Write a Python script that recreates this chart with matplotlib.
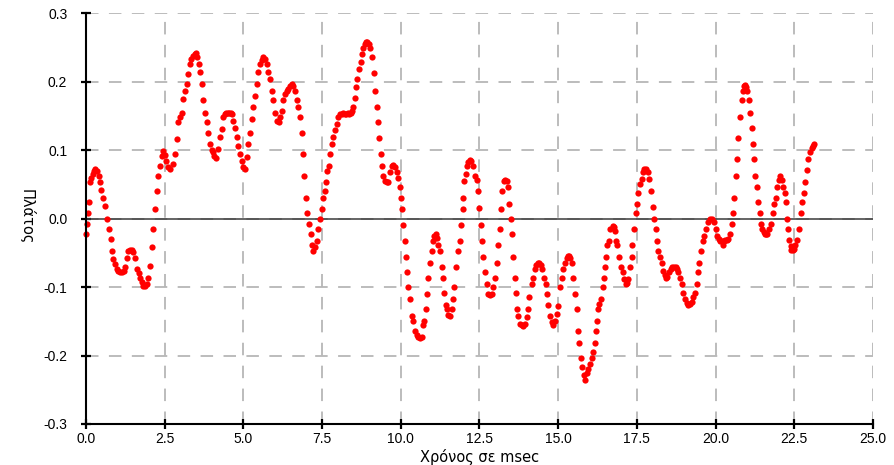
import matplotlib
matplotlib.use("Agg")
import matplotlib.pyplot as plt

# Sampled waveform: time in msec and amplitude
time_ms = [
    0.00, 0.02, 0.05, 0.09, 0.13, 0.17, 0.21, 0.25, 0.29, 0.35, 0.40, 0.44, 0.48, 0.53, 0.60, 0.68, 0.74, 0.79, 0.82, 0.87,
    0.92, 0.98, 1.03, 1.08, 1.14, 1.20, 1.25, 1.30, 1.34, 1.40, 1.45, 1.50, 1.56, 1.63, 1.68, 1.72, 1.77, 1.82, 1.87, 1.93,
    1.98, 2.03, 2.09, 2.14, 2.19, 2.24, 2.30, 2.35, 2.40, 2.46, 2.50, 2.55, 2.62, 2.67, 2.75, 2.83, 2.88, 2.93, 2.98, 3.04,
    3.09, 3.15, 3.20, 3.25, 3.30, 3.35, 3.41, 3.45, 3.49, 3.54, 3.59, 3.62, 3.67, 3.73, 3.78, 3.83, 3.88, 3.94, 3.99, 4.04,
    4.08, 4.13, 4.20, 4.26, 4.31, 4.36, 4.40, 4.45, 4.50, 4.55, 4.60, 4.64, 4.68, 4.73, 4.79, 4.84, 4.89, 4.94, 5.00, 5.05,
    5.10, 5.16, 5.21, 5.26, 5.31, 5.37, 5.42, 5.47, 5.53, 5.58, 5.63, 5.68, 5.74, 5.79, 5.84, 5.90, 5.95, 6.00, 6.06, 6.13,
    6.17, 6.22, 6.27, 6.32, 6.38, 6.43, 6.48, 6.53, 6.58, 6.64, 6.69, 6.74, 6.80, 6.85, 6.90, 6.93, 6.99, 7.03, 7.09, 7.14,
    7.18, 7.22, 7.27, 7.33, 7.38, 7.43, 7.49, 7.54, 7.58, 7.62, 7.67, 7.71, 7.75, 7.80, 7.85, 7.91, 7.96, 8.01, 8.07, 8.12,
    8.17, 8.22, 8.27, 8.32, 8.37, 8.42, 8.45, 8.49, 8.55, 8.58, 8.62, 8.68, 8.73, 8.76, 8.81, 8.85, 8.90, 8.94, 8.98, 9.02,
    9.08, 9.15, 9.18, 9.23, 9.27, 9.32, 9.36, 9.39, 9.45, 9.50, 9.55, 9.60, 9.65, 9.71, 9.76, 9.82, 9.87, 9.92, 9.97, 10.00,
    10.04, 10.08, 10.13, 10.17, 10.21, 10.24, 10.29, 10.35, 10.40, 10.45, 10.50, 10.56, 10.61, 10.66, 10.71, 10.74, 10.79, 10.82, 10.87, 10.93,
    10.98, 11.03, 11.07, 11.12, 11.15, 11.19, 11.25, 11.30, 11.35, 11.37, 11.43, 11.46, 11.51, 11.56, 11.62, 11.65, 11.69, 11.75, 11.83, 11.88,
    11.91, 11.97, 11.99, 12.02, 12.07, 12.09, 12.14, 12.20, 12.24, 12.28, 12.36, 12.41, 12.46, 12.49, 12.54, 12.57, 12.62, 12.67, 12.73, 12.78,
    12.83, 12.89, 12.94, 13.00, 13.05, 13.10, 13.15, 13.17, 13.20, 13.28, 13.32, 13.36, 13.42, 13.45, 13.49, 13.52, 13.55, 13.62, 13.66, 13.70,
    13.73, 13.79, 13.84, 13.89, 13.95, 14.00, 14.05, 14.08, 14.16, 14.21, 14.26, 14.31, 14.35, 14.40, 14.44, 14.47, 14.56, 14.60, 14.63, 14.69,
    14.74, 14.79, 14.84, 14.90, 14.95, 15.00, 15.06, 15.11, 15.16, 15.22, 15.27, 15.31, 15.35, 15.39, 15.43, 15.48, 15.53, 15.59, 15.62, 15.67,
    15.72, 15.77, 15.81, 15.86, 15.92, 15.96, 16.01, 16.06, 16.12, 16.17, 16.20, 16.24, 16.27, 16.31, 16.35, 16.41, 16.45, 16.49, 16.52, 16.56,
    16.62, 16.66, 16.73, 16.76, 16.80, 16.84, 16.88, 16.94, 16.99, 17.05, 17.09, 17.15, 17.19, 17.23, 17.28, 17.33, 17.36, 17.41, 17.47, 17.51,
    17.55, 17.60, 17.65, 17.70, 17.74, 17.79, 17.86, 17.90, 17.94, 18.00, 18.04, 18.11, 18.15, 18.18, 18.23, 18.29, 18.34, 18.38, 18.42, 18.47,
    18.53, 18.58, 18.63, 18.68, 18.73, 18.77, 18.82, 18.87, 18.92, 18.98, 19.03, 19.08, 19.13, 19.18, 19.24, 19.29, 19.35, 19.40, 19.45, 19.48,
    19.53, 19.59, 19.63, 19.70, 19.77, 19.82, 19.88, 19.95, 20.01, 20.05, 20.10, 20.14, 20.19, 20.22, 20.26, 20.30, 20.35, 20.40, 20.46, 20.51,
    20.54, 20.58, 20.65, 20.69, 20.72, 20.78, 20.83, 20.86, 20.90, 20.93, 20.97, 21.01, 21.06, 21.09, 21.15, 21.18, 21.22, 21.25, 21.30, 21.35,
    21.41, 21.44, 21.49, 21.53, 21.57, 21.60, 21.64, 21.71, 21.75, 21.81, 21.86, 21.92, 21.96, 22.00, 22.05, 22.10, 22.15, 22.20, 22.23, 22.26,
    22.31, 22.34, 22.38, 22.41, 22.45, 22.48, 22.52, 22.60, 22.66, 22.70, 22.76, 22.81, 22.84, 22.89, 22.94, 22.99, 23.05, 23.09, 23.13,
]

amplitude = [
    -0.023, -0.008, 0.009, 0.024, 0.053, 0.060, 0.065, 0.070, 0.073, 0.070, 0.062, 0.053, 0.042, 0.031, 0.019, 0.000, -0.015, -0.029, -0.047, -0.059,
    -0.066, -0.074, -0.077, -0.078, -0.078, -0.077, -0.070, -0.057, -0.047, -0.045, -0.046, -0.049, -0.057, -0.074, -0.080, -0.086, -0.093, -0.098, -0.099, -0.096,
    -0.086, -0.069, -0.042, -0.015, 0.014, 0.041, 0.063, 0.077, 0.092, 0.099, 0.093, 0.085, 0.075, 0.073, 0.080, 0.095, 0.117, 0.141, 0.148, 0.155,
    0.175, 0.187, 0.197, 0.212, 0.226, 0.233, 0.238, 0.241, 0.242, 0.236, 0.226, 0.214, 0.197, 0.173, 0.155, 0.141, 0.126, 0.109, 0.101, 0.097,
    0.092, 0.089, 0.102, 0.119, 0.131, 0.148, 0.153, 0.155, 0.155, 0.155, 0.154, 0.153, 0.143, 0.133, 0.119, 0.107, 0.095, 0.085, 0.075, 0.073,
    0.090, 0.109, 0.126, 0.146, 0.163, 0.180, 0.197, 0.214, 0.226, 0.232, 0.236, 0.233, 0.226, 0.214, 0.204, 0.187, 0.173, 0.155, 0.143, 0.141,
    0.148, 0.158, 0.173, 0.182, 0.187, 0.190, 0.194, 0.197, 0.194, 0.187, 0.173, 0.163, 0.148, 0.126, 0.095, 0.063, 0.031, 0.009, -0.008, -0.022,
    -0.039, -0.047, -0.042, -0.032, -0.015, 0.000, 0.014, 0.031, 0.041, 0.053, 0.070, 0.077, 0.095, 0.109, 0.119, 0.129, 0.138, 0.148, 0.153, 0.153,
    0.154, 0.153, 0.153, 0.154, 0.153, 0.155, 0.158, 0.163, 0.177, 0.192, 0.204, 0.219, 0.229, 0.241, 0.250, 0.255, 0.258, 0.258, 0.256, 0.250,
    0.236, 0.213, 0.187, 0.164, 0.141, 0.118, 0.095, 0.077, 0.063, 0.055, 0.053, 0.053, 0.068, 0.077, 0.078, 0.075, 0.068, 0.060, 0.046, 0.031,
    0.014, -0.009, -0.032, -0.056, -0.078, -0.100, -0.117, -0.142, -0.149, -0.164, -0.170, -0.173, -0.174, -0.173, -0.156, -0.149, -0.132, -0.110, -0.086, -0.064,
    -0.047, -0.032, -0.025, -0.022, -0.028, -0.039, -0.047, -0.071, -0.086, -0.109, -0.126, -0.132, -0.140, -0.142, -0.132, -0.117, -0.100, -0.071, -0.047, -0.032,
    -0.009, 0.014, 0.031, 0.055, 0.065, 0.077, 0.083, 0.086, 0.084, 0.077, 0.063, 0.056, 0.041, 0.016, -0.009, -0.032, -0.056, -0.078, -0.096, -0.110,
    -0.112, -0.110, -0.100, -0.086, -0.064, -0.039, -0.015, 0.014, 0.041, 0.055, 0.057, 0.055, 0.046, 0.022, 0.000, -0.023, -0.056, -0.086, -0.109, -0.132,
    -0.142, -0.154, -0.156, -0.157, -0.154, -0.144, -0.132, -0.115, -0.096, -0.086, -0.074, -0.068, -0.064, -0.064, -0.067, -0.074, -0.086, -0.096, -0.110, -0.126,
    -0.142, -0.151, -0.156, -0.149, -0.139, -0.127, -0.100, -0.086, -0.074, -0.064, -0.058, -0.055, -0.054, -0.057, -0.064, -0.086, -0.110, -0.132, -0.164, -0.181,
    -0.204, -0.217, -0.228, -0.235, -0.225, -0.219, -0.212, -0.204, -0.195, -0.181, -0.164, -0.149, -0.132, -0.124, -0.117, -0.100, -0.086, -0.071, -0.056, -0.039,
    -0.032, -0.015, -0.010, -0.012, -0.018, -0.032, -0.039, -0.056, -0.071, -0.078, -0.088, -0.096, -0.094, -0.088, -0.071, -0.056, -0.039, -0.015, 0.008, 0.022,
    0.038, 0.051, 0.058, 0.068, 0.072, 0.073, 0.068, 0.058, 0.041, 0.017, 0.000, -0.015, -0.032, -0.047, -0.056, -0.064, -0.076, -0.082, -0.086, -0.085,
    -0.078, -0.073, -0.071, -0.071, -0.071, -0.074, -0.078, -0.086, -0.096, -0.108, -0.117, -0.123, -0.126, -0.125, -0.122, -0.115, -0.108, -0.096, -0.078, -0.064,
    -0.047, -0.032, -0.025, -0.015, -0.005, -0.001, 0.000, -0.005, -0.015, -0.025, -0.030, -0.033, -0.033, -0.038, -0.032, -0.031, -0.031, -0.030, -0.022, -0.008,
    0.009, 0.031, 0.063, 0.087, 0.118, 0.149, 0.173, 0.187, 0.194, 0.196, 0.193, 0.187, 0.173, 0.155, 0.133, 0.109, 0.087, 0.063, 0.046, 0.024,
    0.009, -0.008, -0.015, -0.020, -0.022, -0.023, -0.022, -0.015, -0.008, 0.009, 0.021, 0.031, 0.046, 0.056, 0.063, 0.056, 0.046, 0.038, 0.024, 0.000,
    -0.015, -0.031, -0.040, -0.045, -0.046, -0.044, -0.039, -0.031, -0.015, 0.009, 0.024, 0.038, 0.053, 0.071, 0.087, 0.097, 0.104, 0.107, 0.109,
]

x_ticks = [0.0, 2.5, 5.0, 7.5, 10.0, 12.5, 15.0, 17.5, 20.0, 22.5, 25.0]
y_ticks = [-0.3, -0.2, -0.1, 0.0, 0.1, 0.2, 0.3]
x_label = "Χρόνος σε msec"
y_label = "Πλάτος"

plt.rcParams["lines.scale_dashes"] = False

fig = plt.figure(figsize=(8.95, 4.65), dpi=100)
ax = fig.add_axes([0.0961, 0.0882, 0.8793, 0.8828])

ax.set_xlim(0, 25)
ax.set_ylim(-0.3, 0.3)
ax.set_xticks(x_ticks)
ax.set_yticks(y_ticks)
ax.set_xticklabels([f"{v:.1f}" for v in x_ticks])
ax.set_yticklabels([f"{v:.1f}" for v in y_ticks])

ax.grid(True, color="#aaaaaa", linewidth=1.1, linestyle=(0, (9, 7.5)), zorder=0)
ax.set_axisbelow(True)
ax.axhline(0.0, color="#3a3a3a", linewidth=1.1, zorder=1)

ax.plot(time_ms, amplitude, linestyle="none", marker="o", markersize=4.5,
        markerfacecolor="#ff0000", markeredgewidth=0, zorder=3, clip_on=False)

for side in ("top", "right"):
    ax.spines[side].set_visible(False)
for side in ("left", "bottom"):
    ax.spines[side].set_linewidth(1.5)
    ax.spines[side].set_color("black")
    ax.spines[side].set_zorder(4)

ax.tick_params(axis="both", direction="inout", length=7, width=1.6, color="black",
               labelsize=10, labelcolor="black")
ax.tick_params(axis="y", pad=10)
ax.tick_params(axis="x", pad=2.5)
for lbl in ax.get_xticklabels() + ax.get_yticklabels():
    lbl.set_fontfamily("Liberation Sans")

ax.set_xlabel(x_label, fontsize=10.5, family="DejaVu Sans", labelpad=2)
ax.set_ylabel(y_label, fontsize=10.5, family="DejaVu Sans", rotation=270,
              va="center", ha="center")
ax.yaxis.set_label_coords(-0.075, 0.505)

fig.savefig("out.png", dpi=100, facecolor="white")
